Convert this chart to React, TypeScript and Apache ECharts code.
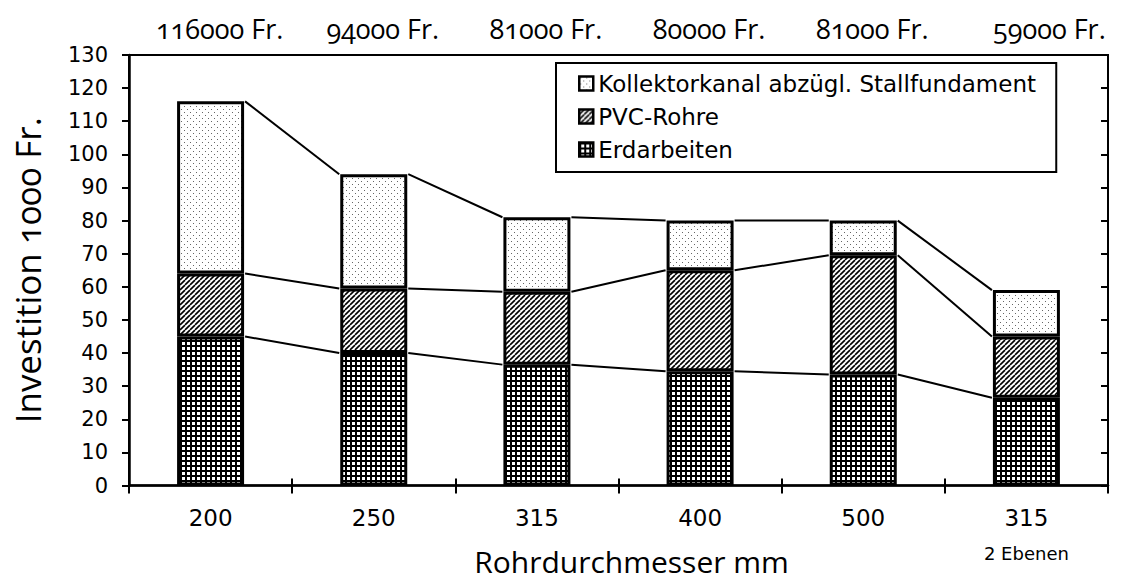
import React, { useEffect, useRef } from "react";
import * as echarts from "echarts";

const categories = ["200", "250", "315", "400", "500", "315"];
const subLabels = ["", "", "", "", "", "2 Ebenen"];
const topLabels = ["116000 Fr.", "94000 Fr.", "81000 Fr.", "80000 Fr.", "81000 Fr.", "59000 Fr."];
const erdarbeiten = [45, 40, 36.5, 34.5, 33.5, 26.5];
const pvcRohre = [19, 19.5, 22, 30.5, 36, 18.5];
const kollektorkanal = [52, 34.5, 22.5, 15, 10.5, 14];
const seriesNames = ["Erdarbeiten", "PVC-Rohre", "Kollektorkanal abzügl. Stallfundament"];
const legendOrder = ["Kollektorkanal abzügl. Stallfundament", "PVC-Rohre", "Erdarbeiten"];
const yMin = 0;
const yMax = 130;
const yStep = 10;

const BAR_W = 67;

function makeTile(kind: string) {
  const c = document.createElement("canvas");
  if (kind === "grid") {
    c.width = 5; c.height = 5;
    const g = c.getContext("2d")!;
    g.fillStyle = "#000"; g.fillRect(0, 0, 5, 5);
    g.fillStyle = "#fff"; g.fillRect(2, 2, 3, 3);
  } else if (kind === "hatch") {
    c.width = 5; c.height = 5;
    const g = c.getContext("2d")!;
    g.fillStyle = "#fff"; g.fillRect(0, 0, 5, 5);
    g.strokeStyle = "#000"; g.lineWidth = 1.6;
    for (const k of [-5, 0, 5]) {
      g.beginPath(); g.moveTo(k, 5); g.lineTo(k + 5, 0); g.stroke();
    }
  } else {
    c.width = 6; c.height = 6;
    const g = c.getContext("2d")!;
    g.fillStyle = "#fff"; g.fillRect(0, 0, 6, 6);
    g.fillStyle = "#666";
    g.fillRect(1, 1, 1, 1);
    g.fillRect(4, 4, 1, 1);
  }
  return { image: c.toDataURL(), repeat: "repeat", imageWidth: c.width, imageHeight: c.height } as any;
}

export default function App() {
  const ref = useRef<HTMLDivElement>(null);
  useEffect(() => {
    const chart = echarts.init(ref.current!, null, { renderer: "svg" });
    const fills = [makeTile("grid"), makeTile("hatch"), makeTile("dots")];
    const values = [erdarbeiten, pvcRohre, kollektorkanal];
    const levels: number[][] = [];
    let acc = categories.map(() => 0);
    values.forEach((arr) => {
      acc = acc.map((v, i) => v + arr[i]);
      levels.push(acc.slice());
    });
    const sans = "DejaVu Sans";
    const human = "'Open Sans'";
    const option: any = {
      animation: false,
      textStyle: { fontFamily: sans, color: "#000" },
      grid: {
        left: 129, right: 18, top: 55, bottom: 101.5,
        outerBoundsMode: "none", containLabel: false,
        show: true, borderColor: "#000", borderWidth: 2, backgroundColor: "transparent",
      },
      legend: {
        orient: "vertical", left: 556, top: 63,
        data: legendOrder,
        icon: "rect", itemWidth: 14, itemHeight: 14, itemGap: 10,
        borderColor: "#000", borderWidth: 2,
        padding: [9, 8, 11, 22],
        selectedMode: false,
        textStyle: { fontFamily: sans, fontSize: 23, lineHeight: 23, color: "#000", width: 450 },
        itemStyle: { borderColor: "#000", borderWidth: 2.5 },
      },
      xAxis: [
        {
          type: "category", data: categories, position: "bottom",
          axisLine: { lineStyle: { color: "#000", width: 2.5 } },
          axisTick: { show: true, length: 8, lineStyle: { color: "#000", width: 2 } },
          axisLabel: {
            margin: 19, color: "#000",
            formatter: (v: string, i: number) => subLabels[i] ? `{a|${v}}\n{b|${subLabels[i]}}` : `{a|${v}}`,
            rich: {
              a: { fontFamily: sans, fontSize: 23, lineHeight: 26, color: "#000" },
              b: { fontFamily: sans, fontSize: 18, lineHeight: 20, padding: [26, 0, 0, 0], color: "#000" },
            },
          },
          name: "Rohrdurchmesser mm", nameLocation: "middle", nameGap: 61, nameMoveOverlap: false,
          nameTextStyle: { fontFamily: human, fontSize: 30, color: "#000", padding: [0, 0, 0, 26] },
        },
        {
          type: "category", data: topLabels, position: "top",
          axisLine: { show: false }, axisTick: { show: false },
          axisLabel: {
            margin: 13, color: "#000",
            formatter: (v: string, i: number) => i === topLabels.length - 1 ? `{l|${v}}` : `{t|${v}}`,
            rich: {
              t: { fontFamily: human, fontSize: 27, color: "#000", padding: [0, 0, 0, 18] },
              l: { fontFamily: human, fontSize: 27, color: "#000", padding: [0, 0, 0, 46] },
            },
          },
        },
        {
          type: "category", data: categories, position: "bottom",
          axisLine: { show: false }, axisLabel: { show: false },
          axisTick: { show: true, inside: true, length: 7, lineStyle: { color: "#000", width: 2 } },
        },
      ],
      yAxis: [
        {
          type: "value", min: yMin, max: yMax, interval: yStep,
          axisLine: { show: true, lineStyle: { color: "#000", width: 2.5 } },
          axisTick: { show: true, length: 7, lineStyle: { color: "#000", width: 2 } },
          axisLabel: { margin: 21, fontFamily: sans, fontSize: 21, color: "#000" },
          splitLine: { show: false },
          name: "Investition 1000 Fr.", nameLocation: "middle", nameGap: 84, nameMoveOverlap: false,
          nameTextStyle: { fontFamily: human, fontSize: 35, color: "#000" },
        },
        {
          type: "value", min: yMin, max: yMax, interval: yStep,
          axisLine: { show: false }, axisLabel: { show: false }, splitLine: { show: false },
          axisTick: { show: true, inside: true, length: 7, lineStyle: { color: "#000", width: 2 } },
        },
      ],
      series: [
        ...values.map((arr, k) => ({
          name: seriesNames[k], type: "bar", stack: "total", data: arr,
          barWidth: BAR_W, xAxisIndex: 0, yAxisIndex: 0,
          itemStyle: { color: fills[k], borderColor: "#000", borderWidth: 3 },
          z: 3,
        })),
        {
          name: "connectors", type: "custom", xAxisIndex: 0, yAxisIndex: 0,
          data: categories.slice(0, -1).map((_, i) => [i, 0]),
          encode: { x: 0, y: 1 }, clip: false, z: 2,
          renderItem: (_p: any, api: any) => {
            const i = api.value(0);
            const half = BAR_W / 2 + 1;
            return {
              type: "group",
              children: levels.map((lv) => {
                const p0 = api.coord([i, lv[i]]);
                const p1 = api.coord([i + 1, lv[i + 1]]);
                return {
                  type: "line",
                  shape: { x1: p0[0] + half, y1: p0[1], x2: p1[0] - half, y2: p1[1] },
                  style: { stroke: "#000", lineWidth: 2 },
                };
              }),
            };
          },
        },
      ],
    };
    chart.setOption(option);
    return () => chart.dispose();
  }, []);
  return (
    <>
      <style>{`text[style*="Open Sans"], text[font-family*="Open Sans"] { font-variant-numeric: oldstyle-nums !important; font-feature-settings: "onum" 1 !important; }`}</style>
      <div ref={ref} style={{ position: "absolute", left: 0, top: 0, width: 1126, height: 587, background: "#fff" }} />
    </>
  );
}
